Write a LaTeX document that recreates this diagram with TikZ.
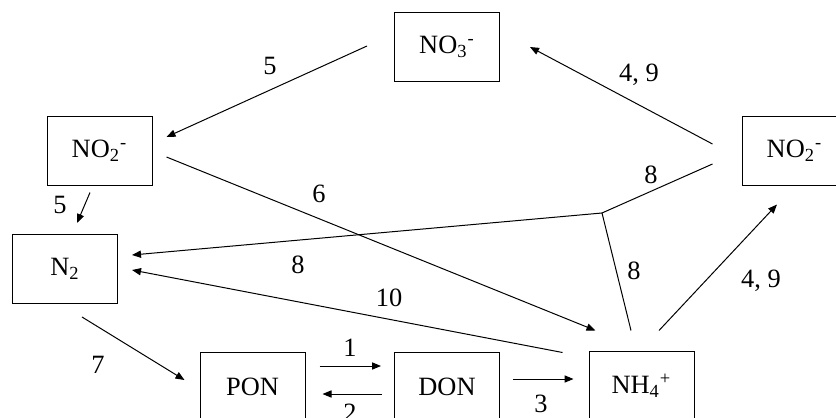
\documentclass[tikz,border=0pt]{standalone}
\usepackage{fontspec}
\setmainfont{Liberation Serif}
\usetikzlibrary{arrows.meta,calc}
\tikzset{
  box/.style={draw, line width=0.5pt, minimum width=52.5pt, minimum height=34.5pt, inner sep=0pt, font=\fontsize{13.2}{15}\selectfont},
  lbl/.style={inner sep=0pt, font=\fontsize{13.2}{15}\selectfont},
  arr/.style={line width=0.5pt, -{Triangle[length=4.5pt,width=3.6pt]}},
  ln/.style={line width=0.5pt}
}
\begin{document}
\begin{tikzpicture}[x=0.5pt,y=-0.5pt]
\useasboundingbox (0,0) rectangle (836,418);
\clip (0,0) rectangle (836,418);
% boxes
\node[box] (NO3) at (447,46.5) {NO\textsubscript{3}\textsuperscript{-}};
\node[box] (NO2L) at (99.5,150.5) {NO\textsubscript{2}\textsuperscript{-}};
\node[box] (NO2R) at (794.5,150.5) {NO\textsubscript{2}\textsuperscript{-}};
\node[box] (N2) at (65,269) {N\textsubscript{2}};
\node[box] (PON) at (252.5,386.5) {PON};
\node[box] (DON) at (447,386.5) {DON};
\node[box] (NH4) at (641.5,385.5) {NH\textsubscript{4}\textsuperscript{+}};
% connectors
\draw[arr] ($(NO3.west)+(-27,-0.5)$) -- ($(NO2L.east)+(14,-13.5)$);
\draw[arr] ($(NO2R.west)+(-29,-6.5)$) -- ($(NO3.east)+(30,0.5)$);
\draw[arr] ($(NO2L.east)+(14,6.5)$) -- ($(NH4.north west)+(7,-20)$);
\draw[arr] ($(NO2L.south)+(-9.5,7)$) -- ($(N2.north)+(12,-11)$);
\coordinate (J) at (602,213);
\draw[ln] ($(NO2R.west)+(-29,13.5)$) -- (J) -- ($(NH4.north)+(-10.5,-20)$);
\draw[arr] (J) -- ($(N2.east)+(14,-14)$);
\draw[arr] ($(NH4.north west)+(-26,2)$) -- ($(N2.east)+(14,1)$);
\draw[arr] ($(NH4.north)+(17.5,-20)$) -- ($(NO2R.south)+(-17.5,19)$);
\draw[arr] ($(N2.south)+(17,13)$) -- ($(PON.west)+(-15,-6.5)$);
\draw[arr] ($(PON.east)+(14,-20.5)$) -- ($(DON.west)+(-13,-20.5)$);
\draw[arr] ($(DON.west)+(-12,7.5)$) -- ($(PON.east)+(17,7.5)$);
\draw[arr] ($(DON.east)+(13,-7.5)$) -- ($(NH4.west)+(-15,-6.5)$);
% labels
\node[lbl] (l5a) at (270,66) {5};
\node[lbl] (l49a) at (639,75) {4, 9};
\node[lbl] (l6) at (319,194) {6};
\node[lbl] (l5b) at (60,205) {5};
\node[lbl] (l8a) at (651,175) {8};
\node[lbl] (l8b) at (634,271) {8};
\node[lbl] (l8c) at (298,265) {8};
\node[lbl] (l10) at (389,298) {10};
\node[lbl] (l49b) at (761,281) {4, 9};
\node[lbl] (l7) at (98,365) {7};
\node[lbl] (l1) at (350,348) {1};
\node[lbl] (l2) at (350,413) {2};
\node[lbl] (l3) at (541,403.5) {3};
\end{tikzpicture}
\end{document}
